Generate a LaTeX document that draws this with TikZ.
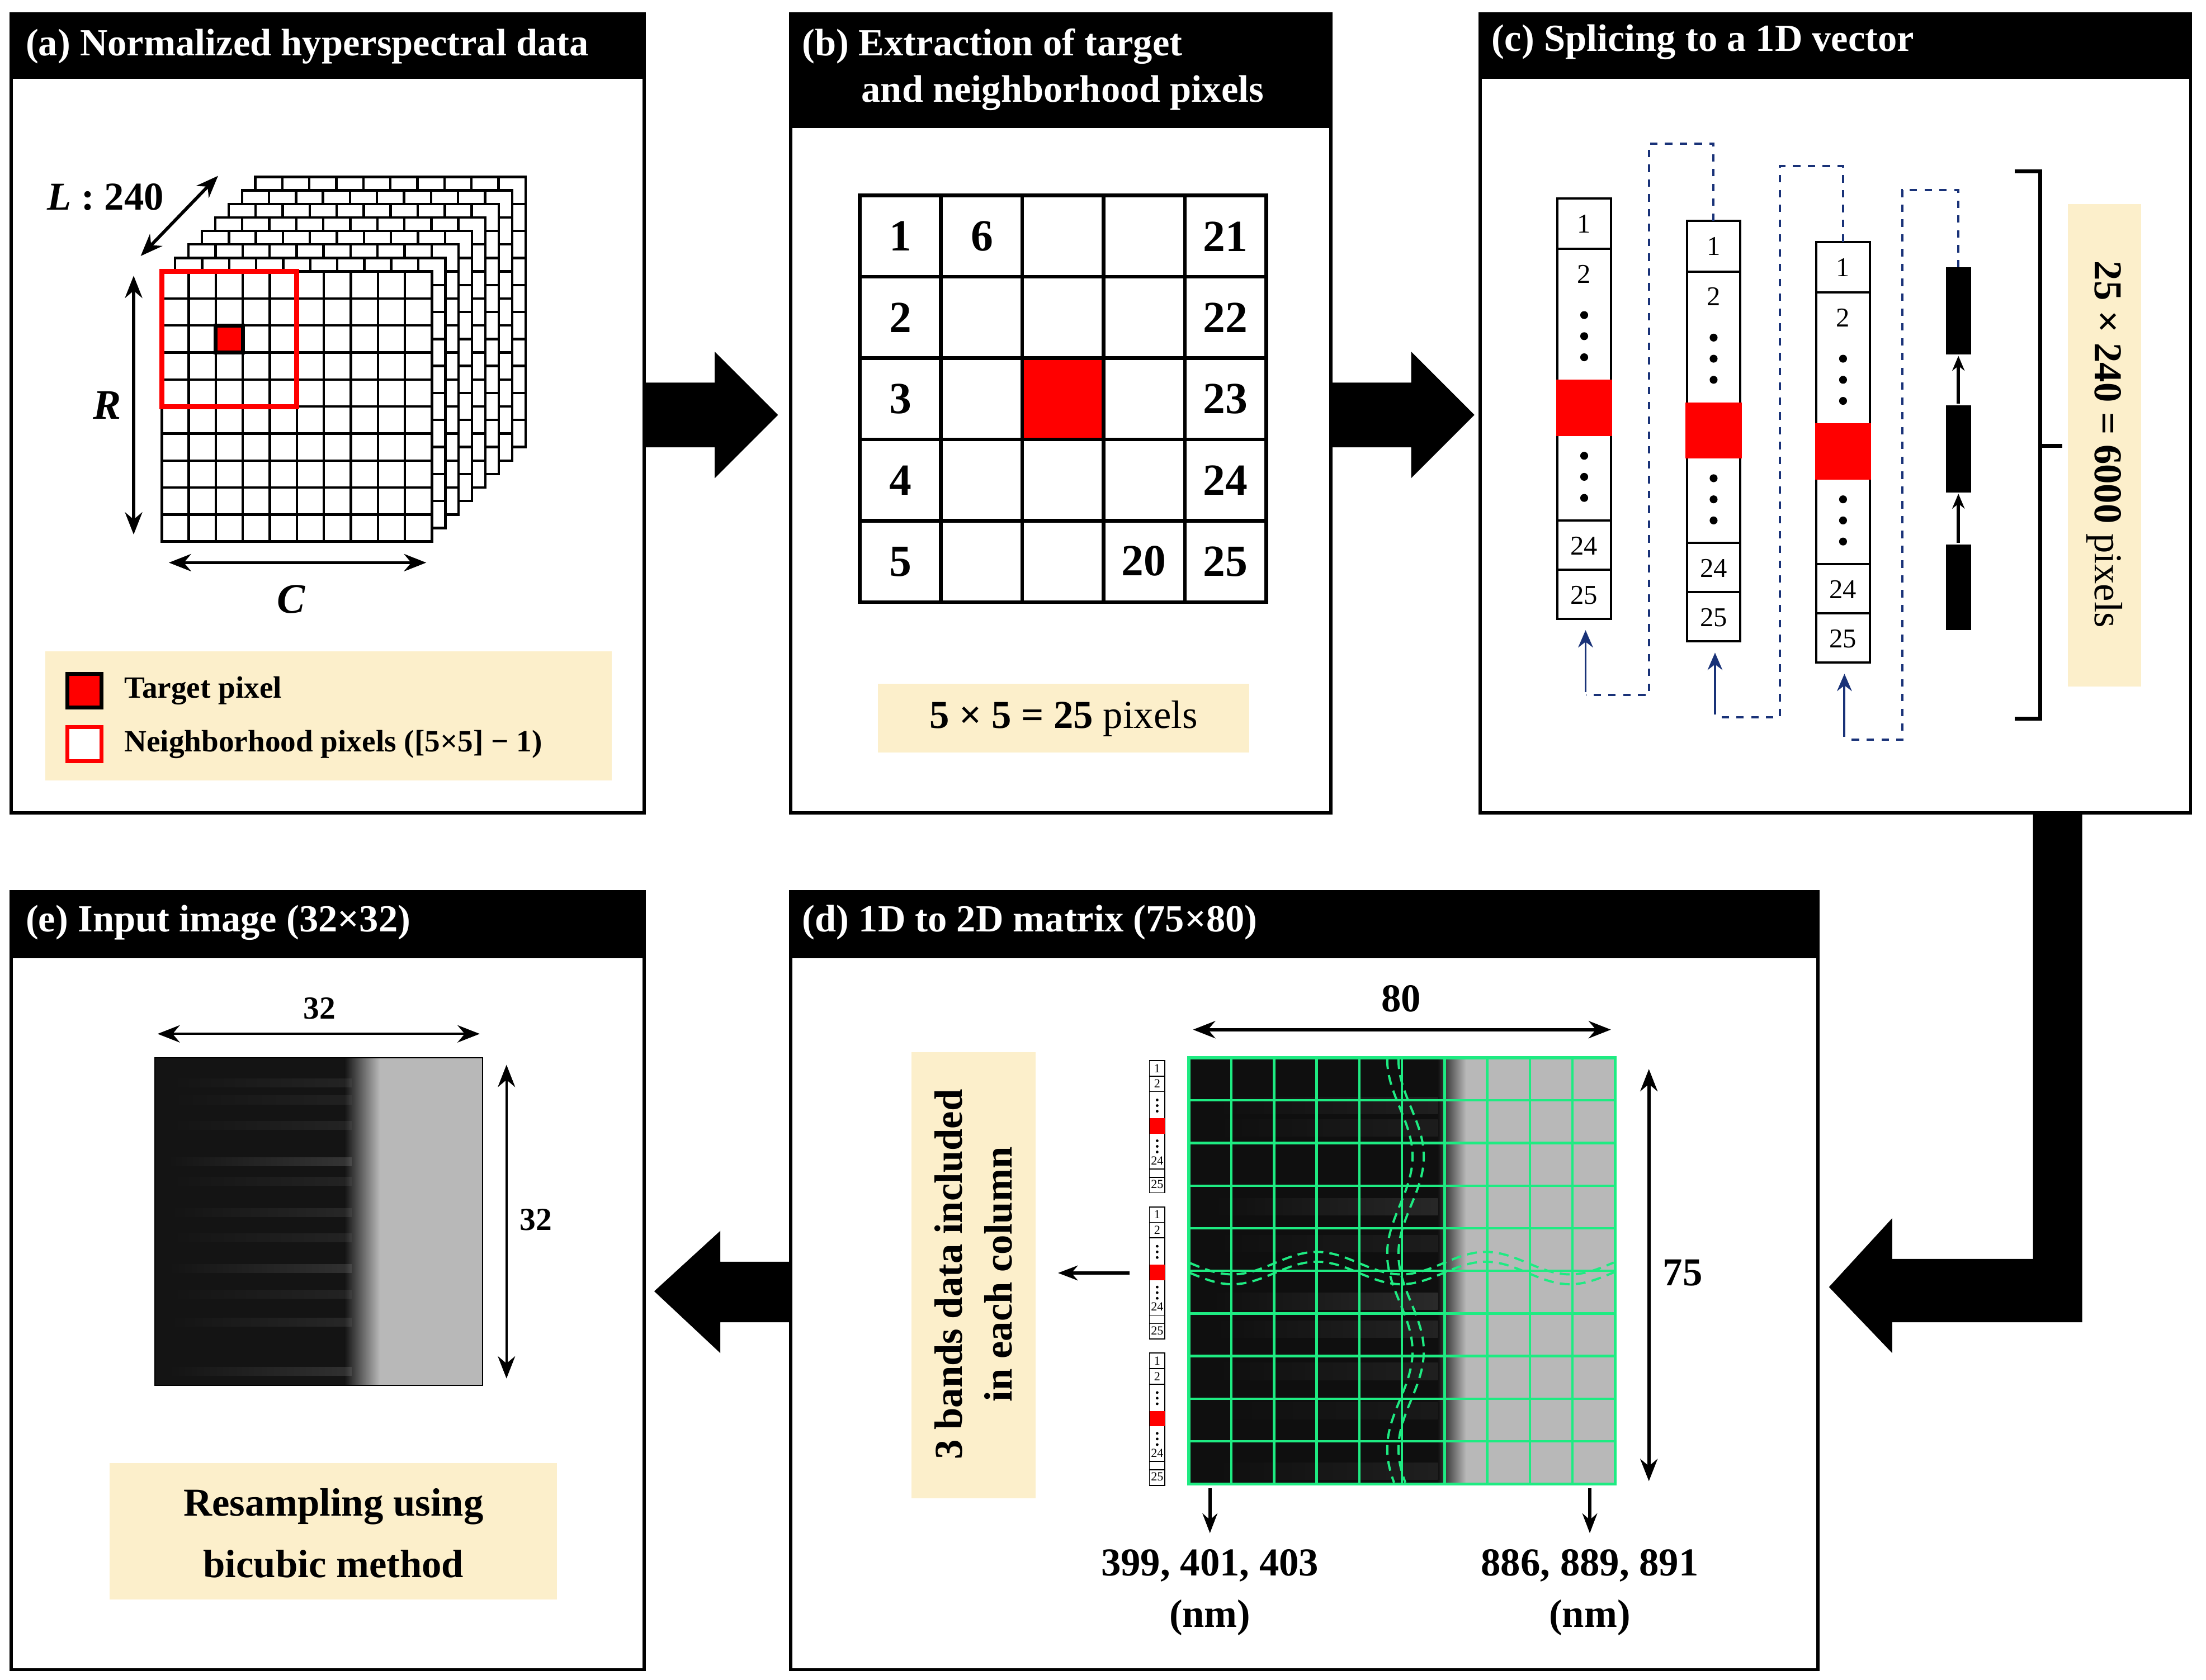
\documentclass[tikz,border=0pt]{standalone}
\usepackage{fontspec}
\setmainfont{Liberation Serif}
\usetikzlibrary{arrows.meta}
\definecolor{beige}{RGB}{252,239,203}
\definecolor{navy}{RGB}{25,50,120}
\definecolor{grn}{RGB}{30,235,130}
\tikzset{
  panel/.style={draw=black,line width=1.3pt,fill=white},
  head/.style={fill=black,draw=black,line width=1.3pt},
  htxt/.style={text=white,font=\fontsize{15.5}{17}\selectfont\bfseries,anchor=west,inner sep=0},
  dbl/.style={{Stealth[length=9pt,width=7pt]}-{Stealth[length=9pt,width=7pt]},line width=1.3pt},
  sarr/.style={-{Stealth[length=8pt,width=6pt]},line width=1.3pt},
  big/.style={fill=black,draw=none},
  bnum/.style={font=\fontsize{18}{20}\selectfont\bfseries,inner sep=0},
  cnum/.style={font=\fontsize{11}{12}\selectfont,inner sep=0},
  tnum/.style={font=\fontsize{5}{6}\selectfont,inner sep=0},
  lbl/.style={font=\fontsize{16}{18}\selectfont\bfseries,inner sep=0},
  bdash/.style={navy,dashed,line width=0.9pt},
  wav/.style={grn,dash pattern=on 4pt off 2.5pt,line width=0.9pt},
  dot/.style={circle,fill=black,inner sep=0,minimum size=3.2pt}
}
\begin{document}
\begin{tikzpicture}[x=0.02cm,y=-0.02cm]
\useasboundingbox (0,0) rectangle (1568,1194);
% ---------------- panel frames
\draw[panel] (8,10) rectangle (458,578);
\draw[head] (8,10) rectangle (458,55);
\node[htxt] (ta) at (18,33) {(a) Normalized hyperspectral data};
\draw[panel] (562,10) rectangle (946,578);
\draw[head] (562,10) rectangle (946,90);
\node[htxt] (tb1) at (570,33) {(b) Extraction of target};
\node[htxt] (tb2) at (612,66) {and neighborhood pixels};
\draw[panel] (1052,10) rectangle (1557,578);
\draw[head] (1052,10) rectangle (1557,55);
\node[htxt] (tc) at (1060,30) {(c) Splicing to a 1D vector};
\draw[panel] (8,634) rectangle (458,1187);
\draw[head] (8,634) rectangle (458,680);
\node[htxt] (te) at (18,656) {(e) Input image (32×32)};
\draw[panel] (562,634) rectangle (1292,1187);
\draw[head] (562,634) rectangle (1292,680);
\node[htxt] (td) at (570,656) {(d) 1D to 2D matrix (75×80)};
% ---------------- big arrows
\fill[big] (458,272) -- (508,272) -- (508,250) -- (553,295) -- (508,340) -- (508,318) -- (458,318) -- cycle;
\fill[big] (946,272) -- (1003,272) -- (1003,250) -- (1048,295) -- (1003,340) -- (1003,318) -- (946,318) -- cycle;
\fill[big] (1445,578) -- (1480,578) -- (1480,940) -- (1345,940) -- (1345,962) -- (1300,915) -- (1345,866) -- (1345,895) -- (1445,895) -- cycle;
\fill[big] (562,897) -- (512,897) -- (512,875) -- (465,918) -- (512,962) -- (512,940) -- (562,940) -- cycle;
% ---------------- (a) cube
\foreach \k in {7,6,...,0}{
  \begin{scope}[shift={(9.5*\k,-9.6*\k)}]
    \fill[white] (115,193) rectangle (307,385);
    \foreach \i in {1,...,9}{
      \draw[line width=1pt] (115+19.2*\i,193) -- (115+19.2*\i,385);
      \draw[line width=1pt] (115,193+19.2*\i) -- (307,193+19.2*\i);
    }
    \draw[line width=1pt] (115,193) rectangle (307,385);
  \end{scope}
}
\draw[red,line width=2pt] (115,193) rectangle (211,289);
\draw[fill=red,line width=1.6pt] (153.4,231.4) rectangle (172.6,250.6);
\draw[dbl] (100,182) -- (155,125);
\node[font=\fontsize{16}{18}\selectfont\bfseries,inner sep=0] (L) at (75,140) {\textit{L} : 240};
\draw[dbl] (95,196) -- (95,380);
\node[font=\fontsize{17}{19}\selectfont\bfseries\itshape,inner sep=0] (R) at (76,288) {R};
\draw[dbl] (120,400) -- (303,400);
\node[font=\fontsize{17}{19}\selectfont\bfseries\itshape,inner sep=0] (C) at (207,426) {C};
\fill[beige] (32,463) rectangle (435,555);
\draw[fill=red,line width=1.6pt] (48,479) rectangle (72,503);
\node[anchor=west,font=\fontsize{12.5}{14}\selectfont\bfseries,inner sep=0] (tp) at (88,491) {Target pixel};
\draw[red,fill=white,line width=1.6pt] (48,517) rectangle (72,541);
\node[anchor=west,font=\fontsize{12.5}{14}\selectfont\bfseries,inner sep=0] (np) at (88,529) {Neighborhood pixels ([5×5] − 1)};
% ---------------- (b) grid
\fill[red] (726.6,254.6) rectangle (784.4,312.4);
\foreach \i in {1,...,4}{
  \draw[line width=1.5pt] (611+57.8*\i,139) -- (611+57.8*\i,428);
  \draw[line width=1.5pt] (611,139+57.8*\i) -- (900,139+57.8*\i);
}
\draw[line width=1.5pt] (611,139) rectangle (900,428);
\foreach \n [count=\i from 0] in {1,2,3,4,5}{
  \node[bnum] (b\n) at (640,168+57.8*\i) {\n};
  \pgfmathtruncatemacro{\m}{\n+20}
  \node[bnum] (b\m) at (871,168+57.8*\i) {\m};
}
\node[bnum] (b6) at (698,168) {6};
\node[bnum] (b20) at (813,399) {20};
\fill[beige] (624,486) rectangle (888,535);
\node[font=\fontsize{16}{18}\selectfont,inner sep=0] (bl) at (756,511) {\textbf{5 × 5 = 25} pixels};
% ---------------- (c) columns
\foreach \cx/\ty in {1107/141,1199/157,1291/172}{
  \begin{scope}[shift={(\cx,\ty)}]
    \draw[line width=0.9pt] (0,0) rectangle (38,299);
    \draw[line width=0.9pt] (0,36) -- (38,36);
    \draw[line width=0.9pt] (0,229) -- (38,229);
    \draw[line width=0.9pt] (0,264) -- (38,264);
    \fill[red] (-1,129) rectangle (39,169);
    \node[cnum] at (19,18) {1};
    \node[cnum] at (19,54) {2};
    \foreach \yy in {83,98,113,183,198,213} \node[dot] at (19,\yy) {};
    \node[cnum] at (19,247) {24};
    \node[cnum] at (19,282) {25};
  \end{scope}
}
\coordinate (cbt) at (1218,157);
\coordinate (cct) at (1310,172);
\fill (1383,190) rectangle (1401,252);
\fill (1383,288) rectangle (1401,350);
\fill (1383,387) rectangle (1401,448);
\coordinate (bt) at (1392,190);
\draw[-{Stealth[length=6pt,width=5pt]},line width=1.3pt] (1392,287) -- (1392,253);
\draw[-{Stealth[length=6pt,width=5pt]},line width=1.3pt] (1392,386) -- (1392,351);
\draw[bdash] (cbt) -- (1218,102) -- (1172,102) -- (1172,494) -- (1127,494);
\draw[bdash] (cct) -- (1310,118) -- (1265,118) -- (1265,510) -- (1219,510);
\draw[bdash] (bt) -- (1392,135) -- (1352,135) -- (1352,526) -- (1311,526);
\draw[navy,line width=0.9pt,-{Stealth[length=7pt,width=6pt]}] (1127,492) -- (1127,448);
\draw[navy,line width=0.9pt,-{Stealth[length=7pt,width=6pt]}] (1219,508) -- (1219,464);
\draw[navy,line width=0.9pt,-{Stealth[length=7pt,width=6pt]}] (1311,524) -- (1311,479);
\draw[line width=1.6pt] (1432,122) -- (1450,122) -- (1450,511) -- (1432,511);
\draw[line width=1.6pt] (1450,317) -- (1466,317);
\fill[beige] (1470,145) rectangle (1522,488);
\node[rotate=-90,font=\fontsize{16}{18}\selectfont,inner sep=0] (cl) at (1496,316) {\textbf{25 × 240 = 6000} pixels};
% ---------------- (d) matrix image
\begin{scope}
\clip (845,752) rectangle (1148,1055);
\fill[black!94] (845,752) rectangle (1148,1055);
\shade[left color=black!94,right color=black!28] (1022,752) rectangle (1042,1055);
\fill[black!28] (1042,752) rectangle (1148,1055);
\foreach \yy/\op in {786/0.12,802/0.1,858/0.18,884/0.1,925/0.2,945/0.15,975/0.12,1003/0.08,1046/0.12}{
  \shade[left color=black!94,right color=white!60!black,opacity=\op] (860,\yy-6) rectangle (1022,\yy+6);
}
\end{scope}
\foreach \i in {1,...,9}{
  \draw[grn,line width=1pt] (845+30.3*\i,752) -- (845+30.3*\i,1055);
  \draw[grn,line width=1pt] (845,752+30.3*\i) -- (1148,752+30.3*\i);
}
\draw[grn,line width=1.2pt] (845,752) rectangle (1148,1055);
\draw[wav] plot[smooth,domain=846:1147,samples=80] (\x,{898+8*sin((\x-846)*3)});
\draw[wav] plot[smooth,domain=846:1147,samples=80] (\x,{905+8*sin((\x-846)*3)});
\draw[wav] plot[smooth,domain=753:1054,samples=80] ({995-9*cos((\x-753)*2.6)},\x);
\draw[wav] plot[smooth,domain=753:1054,samples=80] ({1003-9*cos((\x-753)*2.6)},\x);
\draw[dbl] (848,732) -- (1145,732);
\node[lbl] (d80) at (996,710) {80};
\draw[dbl] (1172,760) -- (1172,1053);
\node[lbl] (d75) at (1196,905) {75};
\foreach \sy in {754,858,962}{
  \begin{scope}[shift={(817,\sy)}]
    \draw[line width=0.4pt,fill=white] (0,0) rectangle (11,94);
    \foreach \yy in {11,22,77,83} \draw[line width=0.4pt] (0,\yy) -- (11,\yy);
    \fill[red] (0,41) rectangle (11,52);
    \node[tnum] at (5.5,5.5) {1};
    \node[tnum] at (5.5,16.5) {2};
    \foreach \yy in {28,32,36,57,61,65} \node[circle,fill=black,inner sep=0,minimum size=1.1pt] at (5.5,\yy) {};
    \node[tnum] at (5.5,71) {24};
    \node[tnum] at (5.5,88) {25};
  \end{scope}
}
\coordinate (dsrc) at (803,905);
\coordinate (ddst) at (752,905);
\draw[sarr] (dsrc) -- (ddst);
\fill[beige] (648,748) rectangle (736,1065);
\node[rotate=90,align=center,font=\fontsize{16}{20}\selectfont\bfseries,inner sep=0] (dl) at (692,906) {3 bands data included\\in each column};
\draw[sarr] (860,1058) -- (860,1090);
\draw[sarr] (1130,1058) -- (1130,1090);
\node[lbl] (w1) at (860,1113) {399, 401, 403};
\node[lbl] (w1n) at (860,1150) {(nm)};
\node[lbl] (w2) at (1130,1113) {886, 889, 891};
\node[lbl] (w2n) at (1130,1150) {(nm)};
% ---------------- (e) input image
\begin{scope}
\clip (110,752) rectangle (343,985);
\fill[black!92] (110,752) rectangle (343,985);
\shade[left color=black!92,right color=black!28] (245,752) rectangle (270,985);
\fill[black!28] (270,752) rectangle (343,985);
\foreach \yy/\op in {770/0.12,782/0.1,800/0.12,826/0.25,840/0.12,862/0.15,880/0.12,902/0.22,920/0.12,940/0.15,975/0.22}{
  \shade[left color=black!92,right color=white!60!black,opacity=\op] (118,\yy-3) rectangle (250,\yy+3);
}
\end{scope}
\draw[line width=0.5pt] (110,752) rectangle (343,985);
\draw[dbl,line width=1pt] (112,735) -- (341,735);
\node[font=\fontsize{13}{15}\selectfont\bfseries,inner sep=0] (e32a) at (227,717) {32};
\draw[dbl,line width=1pt] (360,757) -- (360,980);
\node[font=\fontsize{13}{15}\selectfont\bfseries,inner sep=0] (e32b) at (381,867) {32};
\fill[beige] (78,1040) rectangle (396,1137);
\node[align=center,font=\fontsize{16}{25}\selectfont\bfseries,inner sep=0] (el) at (237,1090) {Resampling using\\bicubic method};
\end{tikzpicture}
\end{document}
